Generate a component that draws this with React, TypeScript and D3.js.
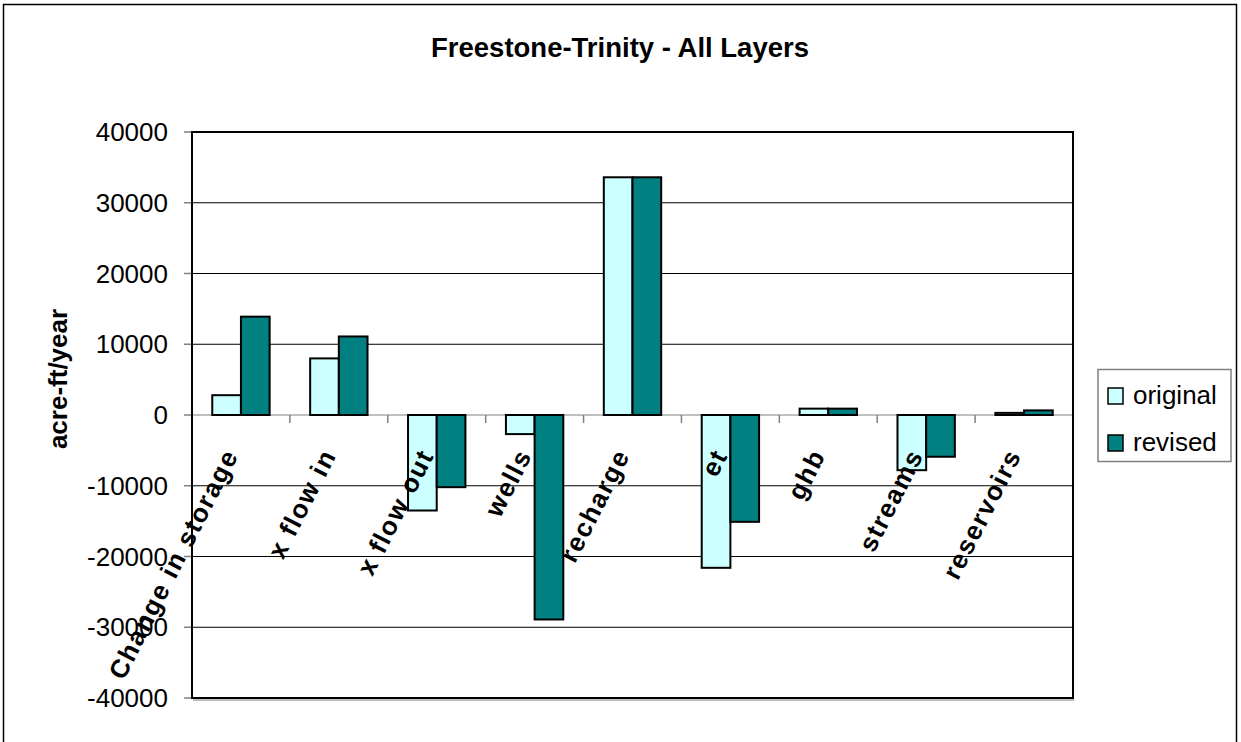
import React from "react";
import * as d3 from "d3";

const title = "Freestone-Trinity - All Layers";
const yAxisTitle = "acre-ft/year";
const categories = [
  "Change in storage",
  "x flow in",
  "x flow out",
  "wells",
  "recharge",
  "et",
  "ghb",
  "streams",
  "reservoirs",
];
const seriesNames = ["original", "revised"];
const originalValues = [2800, 8000, -13500, -2700, 33600, -21600, 900, -7800, 300];
const revisedValues = [13900, 11100, -10200, -28900, 33600, -15100, 900, -5900, 650];
const yTicks = [40000, 30000, 20000, 10000, 0, -10000, -20000, -30000, -40000];
const colors = ["#CCFFFF", "#008080"];

const W = 1241;
const H = 742;
const plot = { left: 192, right: 1073, top: 132, bottom: 698 };
const FONT = "'Liberation Sans', Arial, sans-serif";

export default function App() {
  const y = d3.scaleLinear().domain([-40000, 40000]).range([plot.bottom, plot.top]);
  const x0 = d3
    .scaleBand<string>()
    .domain(categories)
    .range([plot.left, plot.right])
    .paddingInner(0.414)
    .paddingOuter(0.207);
  const x1 = d3.scaleBand<string>().domain(seriesNames).range([0, x0.bandwidth()]);
  const step = x0.step();
  const series = [originalValues, revisedValues];

  return (
    <svg
      width={W}
      height={H}
      style={{ position: "absolute", left: 0, top: 0, background: "#fff" }}
      fontFamily={FONT}
    >
      <rect x={3.5} y={4.5} width={1233} height={760} fill="#fff" stroke="#000" strokeWidth={1.5} />
      <text x={620} y={57} textAnchor="middle" fontWeight="bold" fontSize={27.5}>
        {title}
      </text>

      {/* gridlines */}
      {yTicks.map((t) => (
        <line
          key={"g" + t}
          x1={plot.left}
          x2={plot.right}
          y1={y(t)}
          y2={y(t)}
          stroke={t === 0 ? "#808080" : "#000"}
          strokeWidth={1}
        />
      ))}

      {/* y ticks */}
      {yTicks.map((t) => (
        <g key={"t" + t}>
          <line x1={plot.left - 8} x2={plot.left} y1={y(t)} y2={y(t)} stroke="#808080" strokeWidth={1.5} />
          <text x={168} y={y(t) + 9} textAnchor="end" fontSize={26}>
            {t}
          </text>
        </g>
      ))}

      {/* x ticks on zero line */}
      {d3.range(1, categories.length).map((i) => (
        <line
          key={"xt" + i}
          x1={plot.left + step * i}
          x2={plot.left + step * i}
          y1={y(0)}
          y2={y(0) + 8}
          stroke="#808080"
          strokeWidth={1.5}
        />
      ))}

      {/* bars */}
      {categories.map((c, ci) => (
        <g key={c}>
          {series.map((vals, si) => {
            const v = vals[ci];
            const top = y(Math.max(0, v));
            const h = Math.abs(y(v) - y(0));
            return (
              <rect
                key={si}
                x={(x0(c) as number) + (x1(seriesNames[si]) as number)}
                y={top}
                width={x1.bandwidth()}
                height={h}
                fill={colors[si]}
                stroke="#000"
                strokeWidth={2}
              />
            );
          })}
        </g>
      ))}

      {/* plot border */}
      <rect
        x={plot.left}
        y={plot.top}
        width={plot.right - plot.left}
        height={plot.bottom - plot.top}
        fill="none"
        stroke="#000"
        strokeWidth={2}
      />
      <line x1={plot.left + 1} x2={plot.right + 1} y1={plot.bottom + 2} y2={plot.bottom + 2} stroke="#808080" strokeWidth={1} />

      {/* category labels */}
      {categories.map((c) => {
        const cx = (x0(c) as number) + x0.bandwidth() / 2;
        const lx = cx - 2;
        const ly = 455;
        return (
          <text
            key={"l" + c}
            x={lx}
            y={ly}
            textAnchor="end"
            fontWeight="bold"
            fontSize={26}
            letterSpacing={1.6}
            transform={`rotate(-63, ${lx}, ${ly})`}
          >
            {c}
          </text>
        );
      })}

      {/* y axis title */}
      <text
        x={0}
        y={0}
        textAnchor="middle"
        fontWeight="bold"
        fontSize={26}
        transform={`translate(67, 379) rotate(-90)`}
      >
        {yAxisTitle}
      </text>

      {/* legend */}
      <rect x={1098} y={369.5} width={133} height={92} fill="#fff" stroke="#808080" strokeWidth={1.5} />
      {seriesNames.map((s, i) => (
        <g key={s}>
          <rect
            x={1108}
            y={388 + i * 47}
            width={15}
            height={16}
            fill={colors[i]}
            stroke="#000"
            strokeWidth={1.5}
          />
          <text x={1133} y={404 + i * 47} fontSize={26}>
            {s}
          </text>
        </g>
      ))}
    </svg>
  );
}
